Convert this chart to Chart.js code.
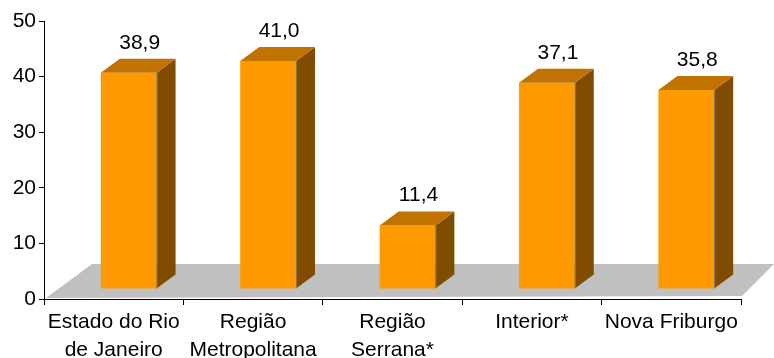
<!DOCTYPE html>
<html>
<head>
<meta charset="utf-8">
<script src="https://cdn.jsdelivr.net/npm/chart.js@4/dist/chart.umd.min.js"></script>
<style>
  html, body { margin: 0; padding: 0; background: #fff; }
  #wrap { width: 774px; height: 358px; }
</style>
</head>
<body>
<div id="wrap"><canvas id="myChart" width="774" height="358"></canvas></div>
<script>
// categories and values
const categories = [
  ['Estado do Rio', 'de Janeiro'],
  ['Região', 'Metropolitana'],
  ['Região', 'Serrana*'],
  'Interior*',
  'Nova Friburgo'
];
const values = [38.9, 41.0, 11.4, 37.1, 35.8];
const valueLabels = ['38,9', '41,0', '11,4', '37,1', '35,8'];
const yTicks = [0, 10, 20, 30, 40, 50];

const FONT = 'Liberation Sans, Arial, sans-serif';

// 3d look: bars sit a bit back on the floor and have a depth
const shift = { x: 15, y: -10 };
const depth = { x: 19, y: -14 };

const bar3d = {
  id: 'bar3d',
  beforeDraw(chart) {
    // gray floor under the bars
    const { ctx, chartArea } = chart;
    const b = chartArea.bottom;
    ctx.save();
    ctx.fillStyle = '#c0c0c0';
    ctx.beginPath();
    ctx.moveTo(chartArea.left + 2, b - 1);
    ctx.lineTo(chartArea.left + 48, b - 35);
    ctx.lineTo(chart.width, b - 35);
    ctx.lineTo(chartArea.right + 1, b - 3);
    ctx.closePath();
    ctx.fill();
    ctx.restore();
  },
  beforeDatasetsDraw(chart) {
    chart.ctx.save();
    chart.ctx.translate(shift.x, shift.y);
  },
  afterDatasetsDraw(chart) {
    const ctx = chart.ctx;
    const meta = chart.getDatasetMeta(0);
    meta.data.forEach((bar, i) => {
      const p = bar.getProps(['x', 'y', 'width', 'base'], true);
      const l = p.x - p.width / 2;
      const r = p.x + p.width / 2;
      // side face
      ctx.fillStyle = '#804c00';
      ctx.beginPath();
      ctx.moveTo(r, p.y);
      ctx.lineTo(r + depth.x, p.y + depth.y);
      ctx.lineTo(r + depth.x, p.base + depth.y);
      ctx.lineTo(r, p.base);
      ctx.closePath();
      ctx.fill();
      // top face
      ctx.fillStyle = '#c07300';
      ctx.beginPath();
      ctx.moveTo(l, p.y);
      ctx.lineTo(l + depth.x, p.y + depth.y);
      ctx.lineTo(r + depth.x, p.y + depth.y);
      ctx.lineTo(r, p.y);
      ctx.closePath();
      ctx.fill();
      // thin edge between front and side
      ctx.strokeStyle = 'rgba(150,130,110,0.8)';
      ctx.lineWidth = 1;
      ctx.beginPath();
      ctx.moveTo(r + 0.5, p.base);
      ctx.lineTo(r + 0.5, p.y);
      ctx.stroke();
    });
    ctx.restore();

    // value labels above the bars
    ctx.save();
    ctx.fillStyle = '#000';
    ctx.font = '21px ' + FONT;
    ctx.textAlign = 'center';
    ctx.textBaseline = 'middle';
    meta.data.forEach((bar, i) => {
      const p = bar.getProps(['x', 'y'], true);
      ctx.fillText(valueLabels[i], p.x + shift.x + 11, p.y + shift.y + depth.y - 16);
    });
    ctx.restore();
  }
};

new Chart(document.getElementById('myChart'), {
  type: 'bar',
  data: {
    labels: categories,
    datasets: [{
      data: values,
      backgroundColor: '#ff9900',
      borderWidth: 0,
      categoryPercentage: 1.0,
      barPercentage: 0.4,
      clip: false
    }]
  },
  options: {
    responsive: false,
    animation: false,
    events: [],
    layout: { padding: { top: 21, right: 33, left: 0, bottom: 0 } },
    plugins: {
      legend: { display: false },
      tooltip: { enabled: false }
    },
    scales: {
      x: {
        grid: { drawOnChartArea: false, drawTicks: true, tickLength: 6, color: '#000', offset: true },
        border: { display: true, color: '#000', width: 1 },
        ticks: { color: '#000', font: { family: FONT, size: 21, lineHeight: 1.3 }, padding: 4, maxRotation: 0, autoSkip: false },
        afterFit(scale) { scale.height = 59; }
      },
      y: {
        min: 0,
        max: 50,
        afterBuildTicks(scale) { scale.ticks = yTicks.map(v => ({ value: v })); },
        grid: { drawOnChartArea: false, drawTicks: true, tickLength: 5, color: '#000' },
        border: { display: true, color: '#000', width: 1 },
        ticks: { color: '#000', font: { family: FONT, size: 21 }, padding: 3 },
        afterFit(scale) { scale.width = 44; }
      }
    }
  },
  plugins: [bar3d]
});
</script>
</body>
</html>
